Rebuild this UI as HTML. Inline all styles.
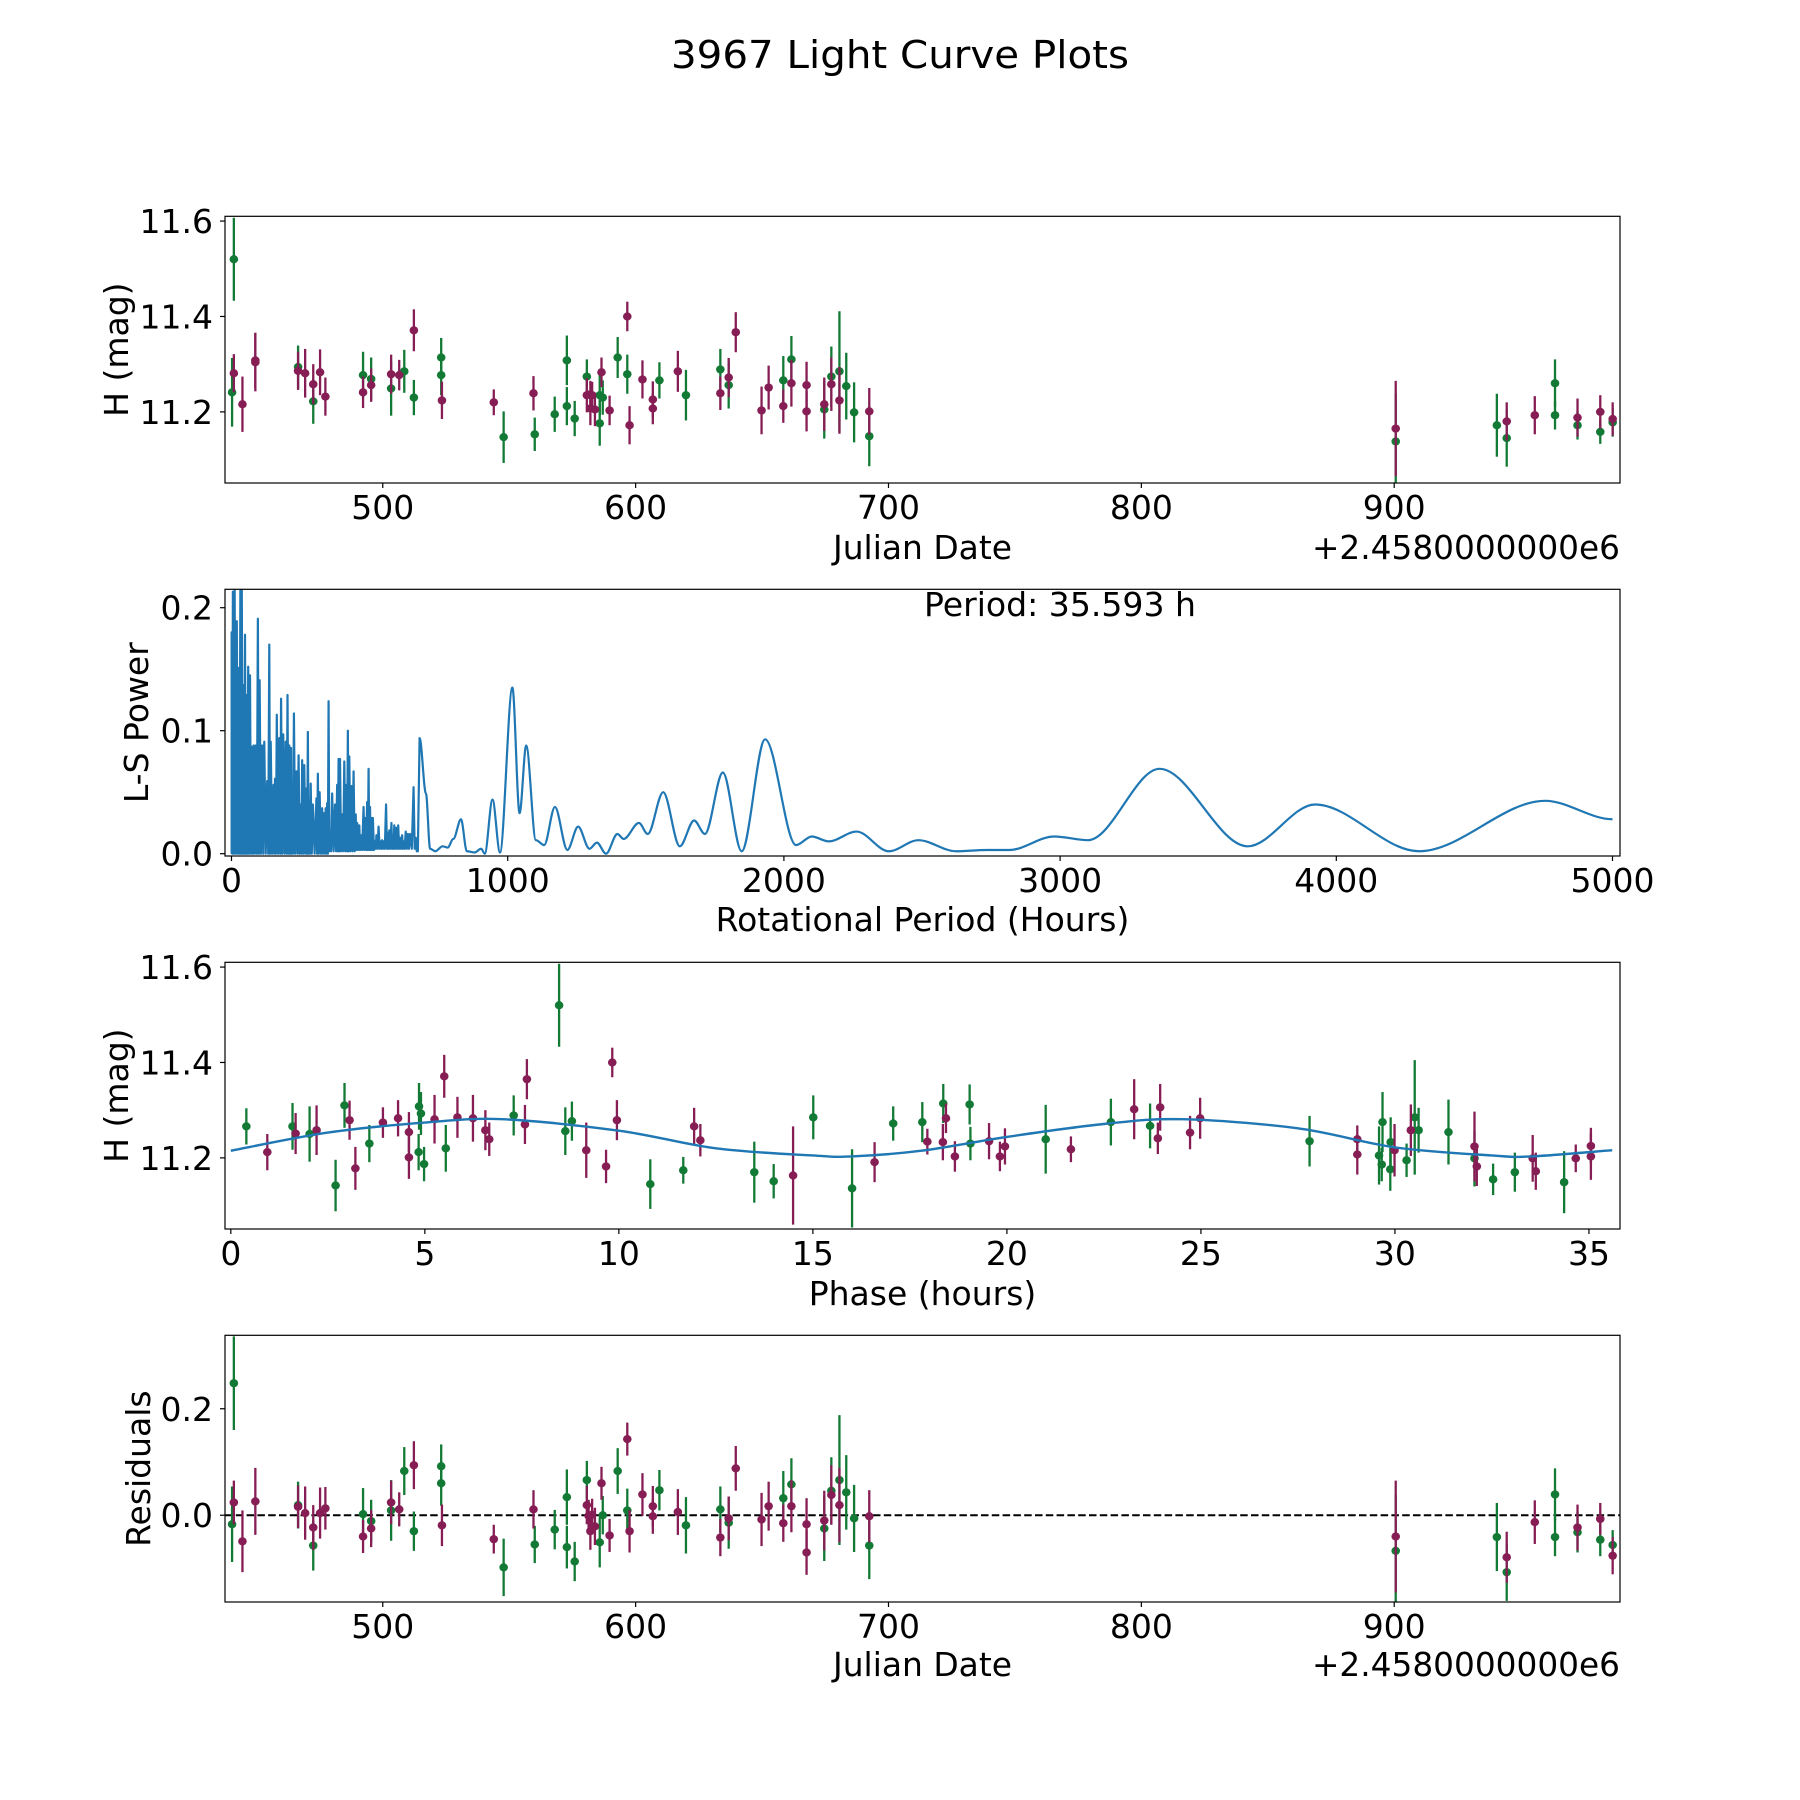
<!DOCTYPE html>
<html>
<head>
<meta charset="utf-8">
<style>
html,body{margin:0;padding:0;background:#fff;}
svg{display:block;font-family:"DejaVu Sans","Liberation Sans",sans-serif;}
</style>
</head>
<body>
<svg id="fig" width="1800" height="1800" viewBox="0 0 1800 1800" xmlns="http://www.w3.org/2000/svg">
<rect x="0" y="0" width="1800" height="1800" fill="#fff"/>
<text x="900" y="68" font-size="38" text-anchor="middle" textLength="458" lengthAdjust="spacingAndGlyphs">3967 Light Curve Plots</text>
<defs>
<clipPath id="c1"><rect x="225" y="216.3" width="1395" height="266.7"/></clipPath>
<clipPath id="c2"><rect x="225" y="589.3" width="1395" height="266.7"/></clipPath>
<clipPath id="c3"><rect x="225" y="962.3" width="1395" height="266.7"/></clipPath>
<clipPath id="c4"><rect x="225" y="1335.3" width="1395" height="266.7"/></clipPath>
</defs>
<g id="p1"></g>
<g id="p2"></g>
<g id="p3"></g>
<g id="p4"></g>
</svg>
<script>
// ---------- Panel 1: light curve (JD offset from 2458000) ----------
const jd1 = [441.1,440.4,441.1,444.5,449.6,449.6,466.5,466.5,469.3,472.5,472.5,475.2,477.3,492.2,492.2,495.4,495.4,503.3,503.3,506.5,508.5,512.3,512.3,523.1,523.1,523.4,543.9,547.8,559.6,560.1,568.0,572.8,572.8,575.9,580.7,580.7,582.1,582.8,582.1,583.9,585.8,587.0,586.5,585.8,589.7,592.9,596.7,596.7,597.6,602.7,606.8,606.8,609.4,616.7,619.9,633.5,633.5,636.8,636.8,639.6,649.8,652.6,658.4,658.4,661.6,661.6,667.6,667.6,674.6,674.6,677.4,677.4,680.6,680.6,683.3,686.4,692.4,692.4,900.6,900.6,940.6,944.5,944.5,955.6,963.6,963.6,972.5,972.5,981.5,981.5,986.4,986.4];
const h1 = [11.52,11.241,11.281,11.216,11.304,11.308,11.294,11.286,11.281,11.222,11.258,11.283,11.232,11.277,11.241,11.269,11.256,11.249,11.279,11.277,11.285,11.371,11.230,11.314,11.277,11.224,11.220,11.147,11.239,11.153,11.195,11.308,11.212,11.186,11.274,11.235,11.237,11.235,11.207,11.205,11.235,11.230,11.283,11.176,11.203,11.314,11.400,11.279,11.172,11.268,11.226,11.207,11.266,11.285,11.235,11.289,11.239,11.272,11.256,11.367,11.203,11.251,11.266,11.212,11.310,11.260,11.256,11.201,11.205,11.216,11.274,11.258,11.285,11.224,11.254,11.199,11.201,11.149,11.165,11.138,11.172,11.180,11.145,11.193,11.193,11.260,11.188,11.172,11.200,11.158,11.185,11.178];
const e1 = [0.087,0.072,0.040,0.058,0.061,0.058,0.045,0.040,0.051,0.047,0.042,0.048,0.040,0.049,0.033,0.045,0.035,0.057,0.041,0.032,0.045,0.044,0.037,0.041,0.042,0.039,0.027,0.054,0.036,0.035,0.037,0.052,0.040,0.037,0.036,0.036,0.028,0.028,0.035,0.035,0.042,0.036,0.031,0.047,0.031,0.043,0.031,0.041,0.040,0.040,0.038,0.033,0.038,0.043,0.053,0.043,0.035,0.041,0.049,0.042,0.050,0.046,0.051,0.035,0.049,0.049,0.049,0.042,0.061,0.056,0.063,0.056,0.126,0.070,0.070,0.063,0.049,0.063,0.100,0.100,0.066,0.040,0.060,0.040,0.030,0.050,0.040,0.030,0.035,0.025,0.035,0.030];
const c1 = ["g","g","p","p","p","p","g","p","p","g","p","p","p","g","p","g","p","g","p","p","g","p","g","g","g","p","p","g","p","g","g","g","g","g","g","p","p","p","p","p","g","g","p","g","p","g","p","g","p","p","p","p","g","p","g","g","p","p","g","p","p","p","g","p","g","p","p","p","g","p","g","p","g","p","g","g","p","g","p","g","g","p","g","p","g","g","p","g","p","g","p","g"];
const jdTicks = [500,600,700,800,900];
const hTicks = [11.2,11.4,11.6];

// ---------- Panel 2: Lomb-Scargle periodogram ----------
const densePeriod = [0.5,5,11.4,19.2,25.6,32.1,37.3,43.7,48.9,54.1,60.5,67,73.5,80,87.7,95.5,101.9,111,118.7,129.1,136.8,142,152.3,157.5,164,173,179.5,187.3,196.3,202.8,209.2,215.7,219.6,226,235.1,242.9,250.6,255.8,263.5,271.3,276.5,281.6,286.8,294.6,307.5,312.7,319.1,328.2,333.4,341.1,346.3,351.5,356.6,364.4,374.7,382.5,387.7,392.8,400.6,408.4,416.1,421.3,426.5,434.2,442,449.7,454.9,462.7,467.8,478.2,483.4,491.1,496.3,501.5,506.6,511.8,519.6,524.7,532.5,540.2,545.4,550.6,559.6,566.1,571.3,579,584.2,589.4,597.1,603.6,610.1,617.8,623,630.8,638.5,646.3,659.2,667,674.7];
const densePower = [0.180,0.213,0.214,0.189,0.151,0.214,0.214,0.137,0.178,0.129,0.152,0.145,0.087,0.088,0.088,0.191,0.141,0.088,0.091,0.059,0.170,0.091,0.056,0.061,0.113,0.094,0.126,0.097,0.091,0.129,0.088,0.086,0.034,0.114,0.067,0.080,0.040,0.076,0.072,0.053,0.099,0.042,0.057,0.040,0.045,0.065,0.050,0.037,0.033,0.037,0.041,0.124,0.018,0.049,0.040,0.056,0.077,0.077,0.032,0.075,0.056,0.100,0.079,0.055,0.067,0.032,0.025,0.023,0.015,0.038,0.029,0.042,0.069,0.038,0.029,0.029,0.010,0.015,0.022,0.010,0.011,0.010,0.040,0.017,0.019,0.025,0.010,0.023,0.021,0.023,0.013,0.015,0.010,0.018,0.016,0.016,0.054,0.013,0.002];
const denseTrough = [0.000,0.000,0.000,0.000,0.000,0.000,0.000,0.000,0.000,0.000,0.000,0.000,0.000,0.000,0.000,0.000,0.000,0.000,0.000,0.000,0.000,0.000,0.000,0.000,0.000,0.000,0.000,0.000,0.000,0.000,0.000,0.000,0.000,0.000,0.000,0.000,0.000,0.000,0.000,0.000,0.000,0.000,0.000,0.000,0.000,0.000,0.000,0.000,0.000,0.000,0.000,0.000,0.002,0.002,0.002,0.002,0.002,0.002,0.002,0.002,0.002,0.002,0.002,0.002,0.002,0.002,0.003,0.003,0.003,0.003,0.003,0.003,0.003,0.003,0.003,0.003,0.003,0.004,0.004,0.004,0.004,0.004,0.004,0.004,0.004,0.004,0.004,0.004,0.004,0.004,0.004,0.004,0.004,0.004,0.004,0.004,0.004,0.004,0.002];
const smoothPeriod = [681,704,719,738,764,783,803,831,852,880,904,917,945,972,1017,1043,1067,1102,1132,1171,1216,1255,1296,1323,1356,1397,1420,1475,1507,1563,1623,1675,1714,1779,1847,1932,2044,2101,2162,2263,2380,2487,2623,2735,2816,2979,3101,3360,3679,3923,4299,4756,5000];
const smoothPower = [0.094,0.049,0.004,0.002,0.006,0.005,0.012,0.028,0.002,0.001,0.004,0.000,0.044,0.001,0.135,0.033,0.088,0.011,0.007,0.038,0.003,0.022,0.004,0.009,0.000,0.016,0.012,0.025,0.016,0.050,0.006,0.027,0.016,0.066,0.002,0.093,0.007,0.014,0.010,0.018,0.002,0.011,0.002,0.003,0.003,0.014,0.011,0.069,0.006,0.040,0.002,0.043,0.028];
const periodTicks = [0,1000,2000,3000,4000,5000];
const powerTicks = [0.0,0.1,0.2];

// ---------- Panel 3: phased light curve ----------
const ph3 = [0.40,0.94,1.59,1.67,2.03,2.21,2.70,2.93,3.06,3.21,3.57,3.92,4.31,4.59,4.59,4.85,4.90,4.84,4.98,5.25,5.50,5.54,5.84,6.24,6.56,6.66,7.29,7.58,7.63,8.46,8.62,8.79,9.16,9.67,9.83,9.95,10.81,11.66,11.94,12.10,13.49,13.99,14.49,15.01,16.01,16.59,17.07,17.82,17.95,18.36,18.35,18.43,18.66,19.04,19.06,19.54,19.82,19.95,21.00,21.65,22.68,23.28,23.69,23.89,23.95,24.72,24.98,27.80,29.03,29.03,29.59,29.66,29.68,29.89,29.88,29.99,30.30,30.41,30.51,30.61,31.38,32.05,32.05,32.11,32.53,33.09,33.55,33.63,34.36,34.66,35.05,35.05];
const h3 = [11.266,11.212,11.266,11.251,11.250,11.258,11.142,11.310,11.279,11.178,11.230,11.274,11.283,11.254,11.201,11.308,11.293,11.212,11.187,11.281,11.371,11.220,11.285,11.283,11.258,11.239,11.289,11.270,11.365,11.520,11.256,11.277,11.216,11.182,11.400,11.279,11.145,11.174,11.266,11.237,11.170,11.151,11.163,11.285,11.136,11.191,11.272,11.275,11.234,11.314,11.233,11.283,11.203,11.312,11.230,11.235,11.203,11.224,11.239,11.218,11.275,11.302,11.267,11.241,11.306,11.253,11.283,11.235,11.239,11.207,11.205,11.186,11.275,11.233,11.176,11.216,11.195,11.258,11.285,11.258,11.254,11.224,11.199,11.182,11.155,11.170,11.199,11.172,11.149,11.199,11.225,11.203];
const e3 = [0.038,0.038,0.049,0.043,0.058,0.052,0.054,0.047,0.041,0.045,0.039,0.032,0.038,0.042,0.045,0.049,0.045,0.038,0.036,0.051,0.045,0.049,0.043,0.049,0.042,0.035,0.042,0.041,0.042,0.087,0.050,0.041,0.058,0.035,0.031,0.042,0.052,0.028,0.039,0.034,0.064,0.036,0.103,0.046,0.082,0.042,0.036,0.042,0.027,0.041,0.038,0.031,0.032,0.042,0.035,0.038,0.031,0.038,0.072,0.027,0.049,0.063,0.047,0.033,0.049,0.035,0.043,0.053,0.029,0.042,0.061,0.035,0.063,0.052,0.045,0.055,0.035,0.054,0.120,0.047,0.068,0.073,0.059,0.041,0.033,0.041,0.049,0.039,0.065,0.029,0.038,0.049];
const c3 = ["g","p","g","p","g","p","g","g","p","p","g","p","p","p","p","g","g","g","g","p","p","g","p","p","p","p","g","p","p","g","g","g","p","p","p","p","g","g","p","p","g","g","p","g","g","p","g","g","p","g","p","p","p","g","g","p","p","p","g","p","g","p","g","p","p","p","p","g","p","p","g","g","g","g","g","p","g","p","g","g","g","p","g","p","g","g","p","p","g","p","p","p"];
const modelPhase = [0,2.5,5,7,10,12.5,15,16,17.8,20,22.5,24.5,27.5,30,32.5,33.5,35.6];
const modelH = [11.215,11.253,11.274,11.281,11.257,11.220,11.205,11.203,11.215,11.244,11.271,11.281,11.262,11.222,11.205,11.203,11.216];
const phaseTicks = [0,5,10,15,20,25,30,35];

// ---------- Panel 4: residuals ----------
const jd4 = [440.4,441.1,441.1,444.5,449.6,466.5,466.5,469.3,472.5,472.5,475.2,477.3,492.2,492.2,495.4,495.4,503.3,503.3,506.5,508.5,512.3,512.3,523.1,523.1,523.4,543.9,547.8,559.6,560.1,568.0,572.8,572.8,575.9,580.7,580.7,581.4,582.8,582.1,583.9,585.8,587.0,586.5,589.7,592.9,596.7,596.7,597.6,602.7,606.8,606.8,609.4,616.7,619.9,633.5,633.5,636.8,636.8,639.6,649.8,652.6,658.4,658.4,661.6,661.6,667.6,667.6,674.6,674.6,677.4,677.4,680.6,680.6,683.3,686.4,692.4,692.4,900.6,900.6,940.6,944.5,944.5,955.6,963.6,963.6,972.5,972.5,981.5,981.5,986.4,986.4];
const r4 = [-0.017,0.248,0.024,-0.049,0.026,0.019,0.016,0.004,-0.023,-0.057,0.004,0.013,0.002,-0.040,-0.011,-0.025,0.024,0.009,0.011,0.083,0.094,-0.030,0.092,0.060,-0.019,-0.045,-0.098,0.011,-0.055,-0.027,0.034,-0.060,-0.087,0.066,0.019,-0.001,0.001,-0.030,-0.021,-0.051,0.000,0.060,-0.038,0.083,0.143,0.009,-0.030,0.039,0.017,-0.002,0.047,0.006,-0.019,0.011,-0.042,-0.006,-0.014,0.088,-0.008,0.017,0.032,-0.015,0.058,0.017,-0.017,-0.070,-0.010,-0.025,0.046,0.038,0.066,0.019,0.043,-0.006,-0.002,-0.057,-0.040,-0.067,-0.041,-0.079,-0.107,-0.013,0.039,-0.041,-0.023,-0.032,-0.007,-0.046,-0.056,-0.076];
const e4 = [0.071,0.088,0.041,0.058,0.063,0.044,0.040,0.050,0.042,0.047,0.048,0.040,0.049,0.031,0.040,0.035,0.041,0.057,0.032,0.045,0.045,0.037,0.041,0.042,0.039,0.027,0.054,0.036,0.035,0.037,0.052,0.040,0.037,0.036,0.036,0.030,0.030,0.035,0.035,0.047,0.036,0.031,0.031,0.043,0.031,0.041,0.040,0.040,0.038,0.033,0.038,0.043,0.053,0.043,0.035,0.041,0.049,0.042,0.050,0.046,0.051,0.035,0.049,0.049,0.049,0.042,0.056,0.061,0.063,0.056,0.122,0.070,0.070,0.063,0.049,0.063,0.105,0.105,0.064,0.048,0.054,0.041,0.049,0.036,0.043,0.038,0.030,0.031,0.028,0.035];
const c4 = ["g","g","p","p","p","g","p","p","p","g","p","p","g","p","g","p","p","g","p","g","p","g","g","g","p","p","g","p","g","g","g","g","g","g","p","p","p","p","p","g","g","p","p","g","p","g","p","p","p","p","g","p","g","g","p","p","g","p","p","p","g","p","g","p","p","p","p","g","g","p","g","p","g","g","p","g","p","g","g","p","g","p","g","g","p","g","p","g","g","p"];
const residTicks = [0.0,0.2];

// ---------- helpers ----------
const NS = "http://www.w3.org/2000/svg";
const GREEN = "#127a35", PURPLE = "#861e55", BLUE = "#1f77b4";
const L = 225, R = 1620, W = 1395, PH = 266.7;
const tops = [216.3, 589.3, 962.3, 1335.3];
function mk(tag, attrs, parent){
  const el = document.createElementNS(NS, tag);
  for (const k in attrs) el.setAttribute(k, attrs[k]);
  parent.appendChild(el);
  return el;
}
const X1 = jd => L + (jd - 437.6) / (989.3 - 437.6) * W;
const Y1 = h => tops[0] + (11.61 - h) * 477;
const X2 = p => 231.5 + 0.2762 * p;
const Y2 = pw => 853.7 - 1230 * pw;
const X3 = ph => L + (ph + 0.15) / (35.95) * W;
const Y3 = h => tops[2] + (11.61 - h) * 477;
const X4 = X1;
const Y4 = r => tops[3] + (0.338 - r) * 532.3;

function frame(g, top, nm){
  const r = mk("rect", {x:L, y:top, width:W, height:PH, fill:"none", stroke:"#000", "stroke-width":1.2}, g);
  
  
}
function xTicks(g, top, ticks, sx, labelFmt, nm){
  ticks.forEach(t => {
    const x = sx(t);
    const ln = mk("line", {x1:x, x2:x, y1:top+PH, y2:top+PH+5, stroke:"#000", "stroke-width":1.2}, g);
    
    
    const tx = mk("text", {x:x, y:top+PH+36, "font-size":33, "text-anchor":"middle"}, g);
    tx.textContent = labelFmt(t);
    
    
  });
}
function yTicks(g, ticks, sy, labelFmt, nm){
  ticks.forEach(t => {
    const y = sy(t);
    const ln = mk("line", {x1:L-5, x2:L, y1:y, y2:y, stroke:"#000", "stroke-width":1.2}, g);
    
    
    const tx = mk("text", {x:L-12, y:y+12, "font-size":33, "text-anchor":"end"}, g);
    tx.textContent = labelFmt(t);
    
    
  });
}
function xLabel(g, text, y, nm, len){
  const tx = mk("text", {x:922.5, y:y, "font-size":33, "text-anchor":"middle"}, g);
  if (len) { tx.setAttribute("textLength", len); tx.setAttribute("lengthAdjust", "spacingAndGlyphs"); }
  tx.textContent = text;
  
  
}
function yLabel(g, text, x, top, nm){
  const cy = top + PH/2;
  const tx = mk("text", {x:x, y:cy, "font-size":33, "text-anchor":"middle", transform:"rotate(-90 "+x+" "+cy+")"}, g);
  tx.textContent = text;
  
  
}
function offsetText(g, y){
  const tx = mk("text", {x:R, y:y, "font-size":33, "text-anchor":"end", textLength:308, lengthAdjust:"spacingAndGlyphs"}, g);
  tx.textContent = "+2.4580000000e6";
  
  
}
function errPoints(g, xs, ys, es, cs, sx, sy, clip, nm){
  const pg = mk("g", {"clip-path":"url(#"+clip+")"}, g);
  ["g","p"].forEach(col => {
    const color = col === "g" ? GREEN : PURPLE;
    xs.forEach((xv, i) => {
      if (cs[i] !== col) return;
      const x = sx(xv);
      const bar = mk("line", {x1:x, x2:x, y1:sy(ys[i]-es[i]), y2:sy(ys[i]+es[i]), stroke:color, "stroke-width":2.3}, pg);
      
      
      const dot = mk("ellipse", {cx:x, cy:sy(ys[i]), rx:4.3, ry:4.1, fill:color}, pg);
      
      
    });
  });
}
const fmtInt = t => String(t);
const fmt1 = t => t.toFixed(1);

// ---------- Panel 1 ----------
const g1 = document.getElementById("p1");
errPoints(g1, jd1, h1, e1, c1, X1, Y1, "c1", "light-curve");
frame(g1, tops[0], "light-curve");
xTicks(g1, tops[0], jdTicks, X1, fmtInt, "light-curve");
yTicks(g1, hTicks, Y1, fmt1, "light-curve");
xLabel(g1, "Julian Date", 559, "light-curve-x-axis-title", 179);
yLabel(g1, "H (mag)", 128, tops[0], "light-curve-y-axis-title");
offsetText(g1, 559);

// ---------- Panel 2 ----------
const g2 = document.getElementById("p2");
const pg2 = mk("g", {"clip-path":"url(#c2)"}, g2);
let d = "M" + X2(densePeriod[0]) + "," + Y2(denseTrough[0]);
densePeriod.forEach((p, i) => {
  const prev = i > 0 ? densePeriod[i-1] : p;
  const mid = (prev + p) / 2;
  d += " L" + X2(mid).toFixed(2) + "," + Y2(denseTrough[i]).toFixed(2);
  d += " L" + X2(p).toFixed(2) + "," + Y2(densePower[i]).toFixed(2);
});
d += " L" + X2(smoothPeriod[0]).toFixed(2) + "," + Y2(smoothPower[0]).toFixed(2);
for (let i = 1; i < smoothPeriod.length; i++){
  const x0 = X2(smoothPeriod[i-1]), y0 = Y2(smoothPower[i-1]);
  const x1 = X2(smoothPeriod[i]), y1 = Y2(smoothPower[i]);
  const dx = (x1 - x0) / 3;
  d += " C" + (x0+dx).toFixed(2) + "," + y0.toFixed(2) + " " + (x1-dx).toFixed(2) + "," + y1.toFixed(2) + " " + x1.toFixed(2) + "," + y1.toFixed(2);
}
const pline = mk("path", {d:d, fill:"none", stroke:BLUE, "stroke-width":2.2, "stroke-linejoin":"round"}, pg2);


frame(g2, tops[1], "periodogram");
xTicks(g2, tops[1], periodTicks, X2, fmtInt, "periodogram");
yTicks(g2, powerTicks, Y2, fmt1, "periodogram");
xLabel(g2, "Rotational Period (Hours)", 931, "periodogram-x-axis-title");
yLabel(g2, "L-S Power", 148, tops[1], "periodogram-y-axis-title");
const ptxt = mk("text", {x:924, y:616, "font-size":33, textLength:272, lengthAdjust:"spacingAndGlyphs"}, g2);
ptxt.textContent = "Period: 35.593 h";



// ---------- Panel 3 ----------
const g3 = document.getElementById("p3");
errPoints(g3, ph3, h3, e3, c3, X3, Y3, "c3", "phase");
(function(){
  const pts = modelPhase.map((p, i) => [X3(p), Y3(modelH[i])]);
  let md = "M" + pts[0][0] + "," + pts[0][1];
  for (let i = 0; i < pts.length - 1; i++){
    const p0 = pts[Math.max(0, i-1)], p1 = pts[i], p2 = pts[i+1], p3 = pts[Math.min(pts.length-1, i+2)];
    const c1x = p1[0] + (p2[0]-p0[0])/6, c1y = p1[1] + (p2[1]-p0[1])/6;
    const c2x = p2[0] - (p3[0]-p1[0])/6, c2y = p2[1] - (p3[1]-p1[1])/6;
    md += " C" + c1x.toFixed(2) + "," + c1y.toFixed(2) + " " + c2x.toFixed(2) + "," + c2y.toFixed(2) + " " + p2[0].toFixed(2) + "," + p2[1].toFixed(2);
  }
  const ml = mk("path", {d:md, fill:"none", stroke:BLUE, "stroke-width":2.4, "clip-path":"url(#c3)"}, g3);
  
  
})();
frame(g3, tops[2], "phase");
xTicks(g3, tops[2], phaseTicks, X3, fmtInt, "phase");
yTicks(g3, hTicks, Y3, fmt1, "phase");
xLabel(g3, "Phase (hours)", 1305, "phase-x-axis-title");
yLabel(g3, "H (mag)", 128, tops[2], "phase-y-axis-title");

// ---------- Panel 4 ----------
const g4 = document.getElementById("p4");
const zl = mk("line", {x1:L, x2:R, y1:Y4(0), y2:Y4(0), stroke:"#000", "stroke-width":2, "stroke-dasharray":"7.5,3.3"}, g4);


errPoints(g4, jd4, r4, e4, c4, X4, Y4, "c4", "residual");
frame(g4, tops[3], "residuals");
xTicks(g4, tops[3], jdTicks, X4, fmtInt, "residuals");
yTicks(g4, residTicks, Y4, fmt1, "residuals");
xLabel(g4, "Julian Date", 1676, "residuals-x-axis-title", 179);
yLabel(g4, "Residuals", 150, tops[3], "residuals-y-axis-title");
offsetText(g4, 1676);
</script>
</body>
</html>
